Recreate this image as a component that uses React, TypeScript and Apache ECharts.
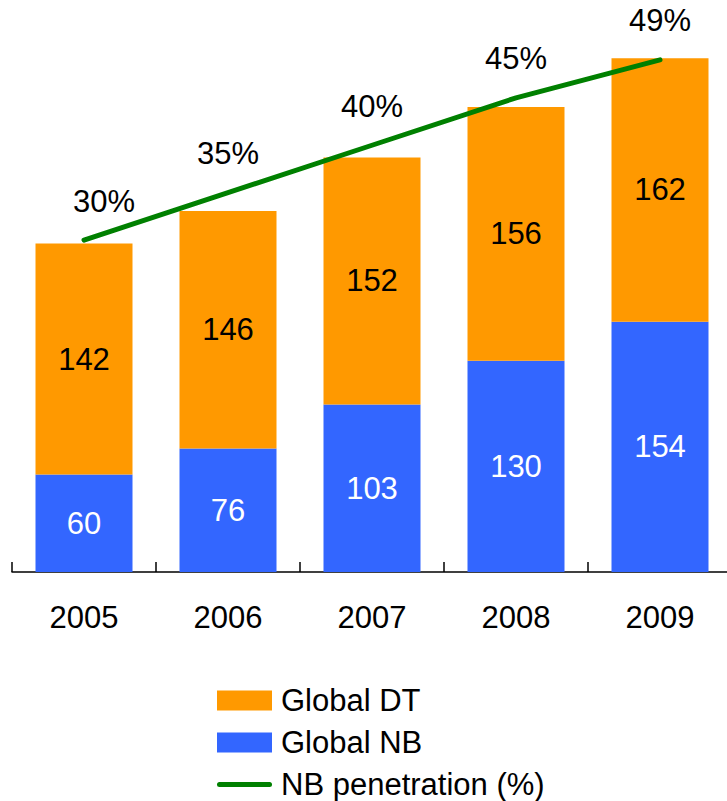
import React, { useEffect, useRef } from "react";
import * as echarts from "echarts";

const years = ["2005", "2006", "2007", "2008", "2009"];
const globalNB = [60, 76, 103, 130, 154];
const globalDT = [142, 146, 152, 156, 162];
const nbPenetration = [30, 35, 40, 45, 49];

const FONT = "'Liberation Sans', Arial, sans-serif";
const FS = 31;

export default function App() {
  const ref = useRef<HTMLDivElement>(null);

  useEffect(() => {
    const chart = echarts.init(ref.current!, null, { renderer: "svg" });
    const option = {
      animation: false,
      textStyle: { fontFamily: FONT },
      grid: {
        left: 12,
        width: 720,
        top: 3,
        height: 569,
        containLabel: false,
        outerBoundsMode: "none",
      },
      legend: {
        orient: "vertical",
        left: 217,
        top: 685,
        padding: 0,
        itemWidth: 55,
        itemHeight: 20,
        itemGap: 11,
        textStyle: { fontSize: FS, color: "#000", fontFamily: FONT, padding: [0, 0, 0, 4] },
        data: [
          { name: "Global DT", icon: "rect" },
          { name: "Global NB", icon: "rect" },
          {
            name: "NB penetration (%)",
            icon: "path://M2.5,0 H52.5 A2.5,2.5 0 0 1 52.5,5 H2.5 A2.5,2.5 0 0 1 2.5,0 Z",
          },
        ],
      },
      xAxis: {
        type: "category",
        data: years,
        axisLine: { show: true, lineStyle: { color: "#000", width: 1.5 } },
        axisTick: { show: true, inside: true, length: 10, lineStyle: { color: "#000", width: 1.5 } },
        axisLabel: { interval: 0, margin: 30, fontSize: FS, color: "#000", fontFamily: FONT },
      },
      yAxis: [
        { type: "value", min: 0, max: 350, show: false, splitLine: { show: false } },
        { type: "value", min: -5, max: 55, show: false, splitLine: { show: false } },
      ],
      series: [
        {
          name: "Global NB",
          type: "bar",
          stack: "total",
          barWidth: 97,
          data: globalNB,
          itemStyle: { color: "#3366FF" },
          label: { show: true, position: "inside", color: "#fff", fontSize: FS, fontFamily: FONT },
        },
        {
          name: "Global DT",
          type: "bar",
          stack: "total",
          barWidth: 97,
          data: globalDT,
          itemStyle: { color: "#FF9900" },
          label: { show: true, position: "inside", color: "#000", fontSize: FS, fontFamily: FONT },
        },
        {
          name: "NB penetration (%)",
          type: "line",
          yAxisIndex: 1,
          symbol: "circle",
          symbolSize: 1,
          showSymbol: true,
          data: nbPenetration.map((v, i) =>
            i === 0 ? { value: v, label: { offset: [20, 0] } } : v
          ),
          itemStyle: { color: "#008000" },
          lineStyle: { color: "#008000", width: 5, cap: "round", join: "round" },
          label: {
            show: true,
            position: "top",
            distance: 23,
            formatter: "{c}%",
            color: "#000",
            fontSize: FS,
            fontFamily: FONT,
          },
          z: 5,
        },
      ],
    };
    chart.setOption(option as any);
    return () => chart.dispose();
  }, []);

  return (
    <div
      ref={ref}
      style={{ position: "fixed", left: 0, top: 0, width: 727, height: 801, background: "#fff" }}
    />
  );
}
